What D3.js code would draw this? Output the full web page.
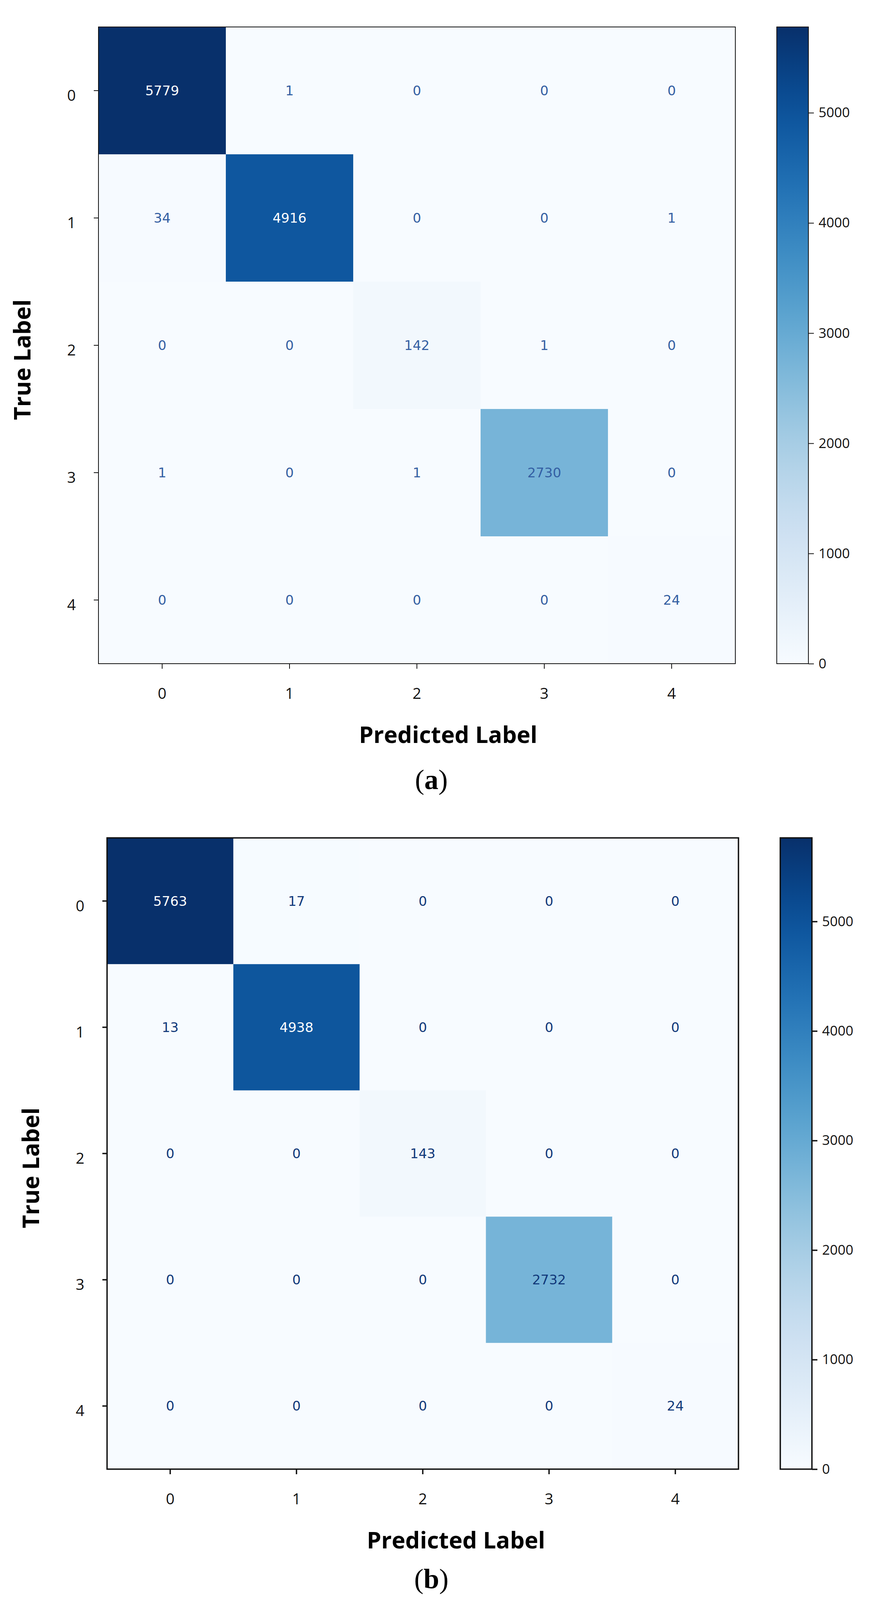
<!DOCTYPE html>
<html>
<head>
<meta charset="utf-8">
<script src="https://cdn.jsdelivr.net/npm/d3@7"></script>
<style>
  body { margin: 0; background: #fff; overflow: hidden; }
  svg { display: block; }
</style>
</head>
<body>
<div id="chart"></div>
<script>
// class labels shared by both matrices
const classes = ["0", "1", "2", "3", "4"];

// confusion matrix (a): rows = true label, cols = predicted label
const matrixA = [
    [5779,    1,   0,    0,  0],
    [  34, 4916,   0,    0,  1],
    [   0,    0, 142,    1,  0],
    [   1,    0,   1, 2730,  0],
    [   0,    0,   0,    0, 24]
];

// confusion matrix (b)
const matrixB = [
    [5763,   17,   0,    0,  0],
    [  13, 4938,   0,    0,  0],
    [   0,    0, 143,    0,  0],
    [   0,    0,   0, 2732,  0],
    [   0,    0,   0,    0, 24]
];

const colorbarTicks = [0, 1000, 2000, 3000, 4000, 5000];
const captions = ["a", "b"];

const W = 2242, H = 4228;

const svg = d3.select("#chart").append("svg")
    .attr("width", W)
    .attr("height", H);

function drawPanel(opts) {
    const data = opts.data;
    const size = opts.size;
    const vmax = d3.max(data.flat());

    const x = d3.scaleBand().domain(classes).range([0, size]);
    const y = d3.scaleBand().domain(classes).range([0, size]);
    const color = d3.scaleSequential(d3.interpolateBlues).domain([0, vmax]);

    const cells = [];
    data.forEach((row, i) => row.forEach((v, j) => cells.push({ r: classes[i], c: classes[j], v: v })));

    const g = svg.append("g")
        .attr("transform", `translate(${opts.left},${opts.top})`);

    // heatmap cells
    g.selectAll("rect.cell")
        .data(cells)
        .enter()
        .append("rect")
        .attr("class", "cell")
        .attr("x", d => x(d.c))
        .attr("y", d => y(d.r))
        .attr("width", x.bandwidth() + 0.5)
        .attr("height", y.bandwidth() + 0.5)
        .attr("fill", d => color(d.v));

    // value annotations, white on dark cells
    const thresh = vmax / 2;
    g.selectAll("text.val")
        .data(cells)
        .enter()
        .append("text")
        .attr("class", "val")
        .attr("x", d => x(d.c) + x.bandwidth() / 2)
        .attr("y", d => y(d.r) + y.bandwidth() / 2)
        .attr("text-anchor", "middle")
        .attr("dominant-baseline", "central")
        .style("font-family", "'DejaVu Sans', sans-serif")
        .style("font-size", "34px")
        .style("fill", d => d.v > thresh ? "#ffffff" : opts.textColor)
        .text(d => d.v);

    // frame
    g.append("rect")
        .attr("width", size)
        .attr("height", size)
        .attr("fill", "none")
        .attr("stroke", "#111")
        .attr("stroke-width", opts.line);

    // axes
    const xAxis = g.append("g")
        .attr("transform", `translate(0,${size})`)
        .call(d3.axisBottom(x).tickSize(13));
    const yAxis = g.append("g")
        .call(d3.axisLeft(y).tickSize(12));

    [xAxis, yAxis].forEach(ax => {
        ax.select(".domain").remove();
        ax.selectAll("line").attr("stroke", "#111").attr("stroke-width", opts.line);
        ax.selectAll("text")
            .style("font-family", "'Open Sans', sans-serif")
            .style("font-size", "39px")
            .style("fill", "#111");
    });
    xAxis.selectAll("text").attr("y", 90).attr("dy", 0);
    yAxis.selectAll("text").attr("x", -58).attr("y", 26).attr("dy", 0);

    // axis titles
    svg.append("text")
        .attr("x", opts.left + size / 2 + opts.xLabelShift)
        .attr("y", opts.top + size + 203)
        .attr("text-anchor", "middle")
        .style("font-family", "'Open Sans', sans-serif")
        .style("font-weight", 700)
        .style("font-size", "59px")
        .style("fill", "#000")
        .text("Predicted Label");

    const ty = opts.top + size / 2 + 37;
    svg.append("text")
        .attr("transform", `translate(${opts.left - 174},${ty}) rotate(-90)`)
        .attr("text-anchor", "middle")
        .style("font-family", "'Open Sans', sans-serif")
        .style("font-weight", 700)
        .style("font-size", "59px")
        .style("fill", "#000")
        .text("True Label");

    // colorbar
    const cbW = 81;
    const cb = svg.append("g")
        .attr("transform", `translate(${opts.cbLeft},${opts.top})`);
    const cScale = d3.scaleLinear().domain([0, vmax]).range([size, 0]);

    const gradId = "grad" + opts.id;
    const grad = svg.append("defs").append("linearGradient")
        .attr("id", gradId)
        .attr("x1", 0).attr("y1", 1).attr("x2", 0).attr("y2", 0);
    d3.range(0, 1.0001, 0.05).forEach(t => {
        grad.append("stop")
            .attr("offset", t)
            .attr("stop-color", d3.interpolateBlues(t));
    });

    cb.append("rect")
        .attr("width", cbW)
        .attr("height", size)
        .attr("fill", `url(#${gradId})`)
        .attr("stroke", "#111")
        .attr("stroke-width", opts.line);

    const cbAxis = cb.append("g")
        .attr("transform", `translate(${cbW},0)`)
        .call(d3.axisRight(cScale)
            .tickValues(colorbarTicks)
            .tickFormat(d3.format("d"))
            .tickSize(14)
            .tickPadding(12));
    cbAxis.select(".domain").remove();
    cbAxis.selectAll("line").attr("stroke", "#111").attr("stroke-width", opts.line);
    cbAxis.selectAll("text")
        .style("font-family", "'Open Sans', sans-serif")
        .style("font-size", "35px")
        .style("fill", "#111");

    // caption
    const cap = svg.append("text")
        .attr("x", 1104)
        .attr("y", opts.captionY)
        .attr("text-anchor", "middle")
        .style("font-family", "'Liberation Serif', 'DejaVu Serif', serif")
        .style("font-size", "72px")
        .style("fill", "#000");
    cap.append("tspan").text("(");
    cap.append("tspan").style("font-weight", 700).text(opts.caption);
    cap.append("tspan").text(")");
}

// keep the last caption inside the visible area
const viewH = window.innerHeight || H;

drawPanel({
    id: "a", data: matrixA, caption: captions[0],
    left: 252, top: 69, size: 1630, cbLeft: 1988,
    line: 2, textColor: "#345fa3", xLabelShift: 80, captionY: 2020
});

drawPanel({
    id: "b", data: matrixB, caption: captions[1],
    left: 274, top: 2145, size: 1616, cbLeft: 1997,
    line: 3.5, textColor: "#11397a", xLabelShift: 85,
    captionY: Math.min(4140, viewH - 30)
});
</script>
</body>
</html>
